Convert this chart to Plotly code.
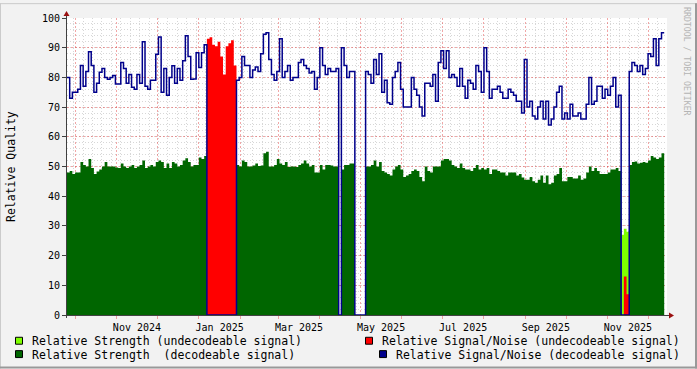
import plotly.graph_objects as go
import pandas as pd

# ---------------- data ----------------
START = "2024-09-25"
END = "2025-12-15 02:00"
STEP_DAYS = 2

# Relative Signal/Noise (decodeable signal), one value per 2-day step from START
snr_decoded = [
    80, 73, 75, 75, 76, 84, 77, 82, 88.6, 84,
    75, 78, 81.7, 83, 80, 79.4, 80, 80.6, 77.8, 77.8,
    85, 83, 78, 81, 76.7, 76, 81, 78, 92, 77,
    76, 79, 79, 87.8, 93.6, 75, 83, 74, 80, 83.9,
    78, 83, 79, 85.6, 94, 87, 79.4, 79.5, 88.3, 83.3,
    88.3, 91,
    0, 0, 0, 0, 0, 0, 0, 0, 0, 0, 0,
    79, 80, 87, 84, 84, 80, 82.5,
    83.5, 82, 88, 94.5, 95, 86, 81, 79, 82, 93,
    80, 82, 84, 79, 80, 80, 85, 86, 84,
    83, 81.5, 82, 76, 80, 90, 84, 81, 83, 82, 82,
    83, 0,
    90, 84, 80, 82, 82,
    0, 0, 0, 0,
    82, 81, 78, 86, 81, 88, 75, 79, 71.5,
    71, 80, 82, 85, 76, 70, 70, 70, 80, 76,
    74, 70, 67,
    78, 78, 77, 81, 72, 85, 89,
    83, 89, 80, 81, 80, 77, 83, 77, 73, 79,
    78, 76, 84, 82, 75, 90, 82, 73, 76, 76,
    77, 75, 73, 73, 76, 75, 74, 72, 72, 68,
    86, 70, 72, 67, 66, 70, 72, 66,
    72, 64, 66, 70, 75, 77, 66, 68, 66, 71,
    67, 67, 68, 66, 66, 71, 80, 71, 72, 77,
    77, 73, 76, 74, 77, 80, 70, 74,
    0, 0, 0,
    82, 85, 84, 82, 84, 81, 83, 88, 87, 93, 84, 93, 95,
]

# Relative Strength (decodeable signal), same 2-day steps
strength_decoded = [
    48, 48.5, 47.5, 48, 48, 51.5, 50.5, 50, 52.5, 49.5,
    47.5, 48.3, 49, 50, 51.5, 50, 50, 50, 49.7, 49.5,
    51, 50, 49.5, 50, 50.5, 49.5, 50, 50.5, 52, 49.5,
    50, 50.5, 50, 51.5, 52, 51.5, 49.5, 51, 49.5, 51.5,
    51, 50, 50.5, 52, 52.8, 51.5, 50, 50.5, 50.5, 53,
    52.5, 53.5,
    0, 0, 0, 0, 0, 0, 0, 0, 0, 0, 0,
    50.5, 50, 52, 51.5, 50, 50, 50.3,
    51, 50.2, 50.3, 54.5, 55, 50, 50, 50.5, 52.5, 51,
    50.5, 51.5, 49.8, 50, 50, 49.8, 50.5, 51, 52,
    51, 50, 50.5, 48, 48, 50.5, 49, 50.5, 50.5, 50.3, 50,
    50, 0,
    49, 50.5, 50.5, 51, 51,
    0, 0, 0, 0,
    50, 50, 50.5, 52, 50, 51.5, 48.5, 48, 47.5,
    47, 49, 50, 50.5, 49, 46.5, 47, 47.5, 48.5, 49,
    48.5, 46.5, 45,
    50, 48.5, 48, 50, 50, 50, 52,
    52.5, 52.5, 52, 50.5, 50, 49.5, 51, 49.5, 49, 49,
    48.5, 49.5, 50.5, 49, 49.5, 49, 49.5, 47.5, 49, 49,
    48.5, 48, 48, 47, 48, 48, 48, 47, 47.5, 46.3,
    45.5, 45.5, 46.5, 45, 44.5, 45.5, 47, 44.5,
    47, 44, 44.5, 47, 47.5, 49.5, 45, 45, 46.5, 46.5,
    46, 46, 47, 45.5, 46, 48, 50, 48.5, 49.5, 48.5,
    47.5, 47.5, 47.5, 48, 49, 49, 49.5, 48.5,
    0, 0, 0,
    50.5, 51.5, 51.7, 51, 51.3, 51.5, 51.3, 52, 53.5, 53, 52.5, 53, 54.5,
]

# Undecodeable periods
SNR_UNDEC_JAN_START = "2025-01-07"
snr_undecoded_jan = [93, 93.5, 91, 90.5, 92, 87, 81, 90.5, 91.5, 92.5, 84]
NOV_GAP_START = "2025-11-11"
snr_undecoded_nov = [0, 13, 7]
strength_undecoded_nov = [27, 29, 28]

y_tick_values = list(range(0, 101, 10))

legend_labels = [
    "Relative Strength (undecodeable signal)",
    "Relative Signal/Noise (undecodeable signal)",
    "Relative Strength  (decodeable signal)",
    "Relative Signal/Noise (decodeable signal)",
]

# ---------------- styles ----------------
C_LIME = "#7FFF00"
C_RED = "#FF0000"
C_DGREEN = "#006600"
C_NAVY = "#00008B"
C_BACK = "#F2F2F2"
C_MGRID = "rgba(225,60,60,0.45)"
C_GRID = "rgba(140,140,140,0.35)"
C_AXIS = "#404040"
C_ARROW = "#9A1010"
FONT = "DejaVu Sans Mono"

FIG_W, FIG_H = 697, 369
L, T, W, H = 67, 15, 600, 300


def px(x):
    return (x - L) / W


def py(y):
    return (T + H - y) / H


def steps(start, values):
    d = pd.date_range(start, periods=len(values) + 1, freq=f"{STEP_DAYS}D")
    return list(d), list(values) + [values[-1]]


fig = go.Figure()


def area(start, values, color):
    x, y = steps(start, values)
    fig.add_trace(go.Scatter(x=x, y=y, mode="lines", line=dict(width=0, shape="hv"),
                             fill="tozeroy", fillcolor=color, hoverinfo="skip"))


area(NOV_GAP_START, strength_undecoded_nov, C_LIME)
area(SNR_UNDEC_JAN_START, snr_undecoded_jan, C_RED)
area(NOV_GAP_START, snr_undecoded_nov, C_RED)
area(START, strength_decoded, C_DGREEN)

xs, ys = steps(START, snr_decoded)
fig.add_trace(go.Scatter(x=xs, y=ys, mode="lines",
                         line=dict(color=C_NAVY, width=1.5, shape="hv"), hoverinfo="skip"))

fig.update_layout(
    width=FIG_W, height=FIG_H,
    margin=dict(l=L, r=FIG_W - L - W, t=T, b=FIG_H - T - H),
    paper_bgcolor=C_BACK, plot_bgcolor="white",
    showlegend=False,
    font=dict(family=FONT, size=10, color="black"),
)
fig.update_xaxes(
    type="date", range=[START, END],
    dtick="M1", tick0="2024-11-01", ticklabelmode="period", ticklabelstep=2,
    tickformat="%b %Y", tickfont=dict(family=FONT, size=10, color="black"),
    showgrid=True, gridcolor=C_MGRID, griddash="2px,2px", gridwidth=1,
    ticks="outside", ticklen=3, tickcolor=C_MGRID,
    showline=False, zeroline=False,
    minor=dict(dtick=7 * 86400000, tick0="2024-09-30", showgrid=True,
               gridcolor=C_GRID, griddash="1px,2px", ticks=""),
)
fig.update_yaxes(
    range=[0, 100], tickmode="array", tickvals=y_tick_values,
    tickfont=dict(family=FONT, size=10, color="black"),
    showgrid=True, gridcolor=C_MGRID, griddash="2px,2px", gridwidth=1,
    ticks="outside", ticklen=4, tickcolor=C_AXIS,
    showline=False, zeroline=False,
    minor=dict(dtick=2, tick0=0, showgrid=True, gridcolor=C_GRID, griddash="1px,2px", ticks=""),
)

shapes = []
# axes with arrows
shapes.append(dict(type="line", xref="paper", yref="paper", x0=px(66.5), x1=px(66.5),
                   y0=py(318), y1=py(12), line=dict(color=C_AXIS, width=1)))
shapes.append(dict(type="line", xref="paper", yref="paper", x0=px(64), x1=px(670),
                   y0=py(315.5), y1=py(315.5), line=dict(color=C_AXIS, width=1)))
shapes.append(dict(type="path", xref="paper", yref="paper",
                   path=f"M {px(63.5)} {py(13)} L {px(69.5)} {py(13)} L {px(66.5)} {py(8)} Z",
                   fillcolor=C_ARROW, line=dict(width=0)))
shapes.append(dict(type="path", xref="paper", yref="paper",
                   path=f"M {px(669)} {py(312.5)} L {px(669)} {py(318.5)} L {px(674)} {py(315.5)} Z",
                   fillcolor=C_ARROW, line=dict(width=0)))
# image frame
shapes.append(dict(type="line", xref="paper", yref="paper", x0=px(0), x1=px(697),
                   y0=py(0.5), y1=py(0.5), line=dict(color="#CBCBCB", width=1)))
shapes.append(dict(type="line", xref="paper", yref="paper", x0=px(0.5), x1=px(0.5),
                   y0=py(0), y1=py(369), line=dict(color="#CBCBCB", width=1)))
shapes.append(dict(type="line", xref="paper", yref="paper", x0=px(0), x1=px(697),
                   y0=py(368), y1=py(368), line=dict(color="#999999", width=2)))
shapes.append(dict(type="line", xref="paper", yref="paper", x0=px(696), x1=px(696),
                   y0=py(0), y1=py(369), line=dict(color="#999999", width=2)))

annotations = []
legend_pos = [
    (15.5, 337.5, 30, 341.5, C_LIME),
    (365.5, 337.5, 380, 341.5, C_RED),
    (15.5, 351, 30, 355, C_DGREEN),
    (379.5, 351, 394, 355, C_NAVY),
]
for label, (bx, by, tx, ty, col) in zip(legend_labels, legend_pos):
    shapes.append(dict(type="rect", xref="paper", yref="paper",
                       x0=px(bx), x1=px(bx + 7), y0=py(by), y1=py(by + 7),
                       fillcolor=col, line=dict(color="black", width=1)))
    annotations.append(dict(xref="paper", yref="paper", x=px(tx), y=py(ty), text=label,
                            showarrow=False, xanchor="left", yanchor="middle",
                            font=dict(family=FONT, size=11.5, color="black")))

annotations.append(dict(xref="paper", yref="paper", x=px(10.5), y=py(165), text="Relative Quality",
                        textangle=-90, showarrow=False, xanchor="center", yanchor="middle",
                        font=dict(family=FONT, size=11.5, color="black")))
annotations.append(dict(xref="paper", yref="paper", x=px(687.5), y=py(59),
                        text="RRDTOOL / TOBI OETIKER",
                        textangle=90, showarrow=False, xanchor="center", yanchor="middle",
                        font=dict(family=FONT, size=8.2, color="#B4B4B4")))

fig.update_layout(shapes=shapes, annotations=annotations)
fig.write_html(
    "out.html",
    config={"displayModeBar": False},
    post_script="document.body.style.margin='0';document.body.style.padding='0';"
                "document.documentElement.style.overflow='hidden';",
)
